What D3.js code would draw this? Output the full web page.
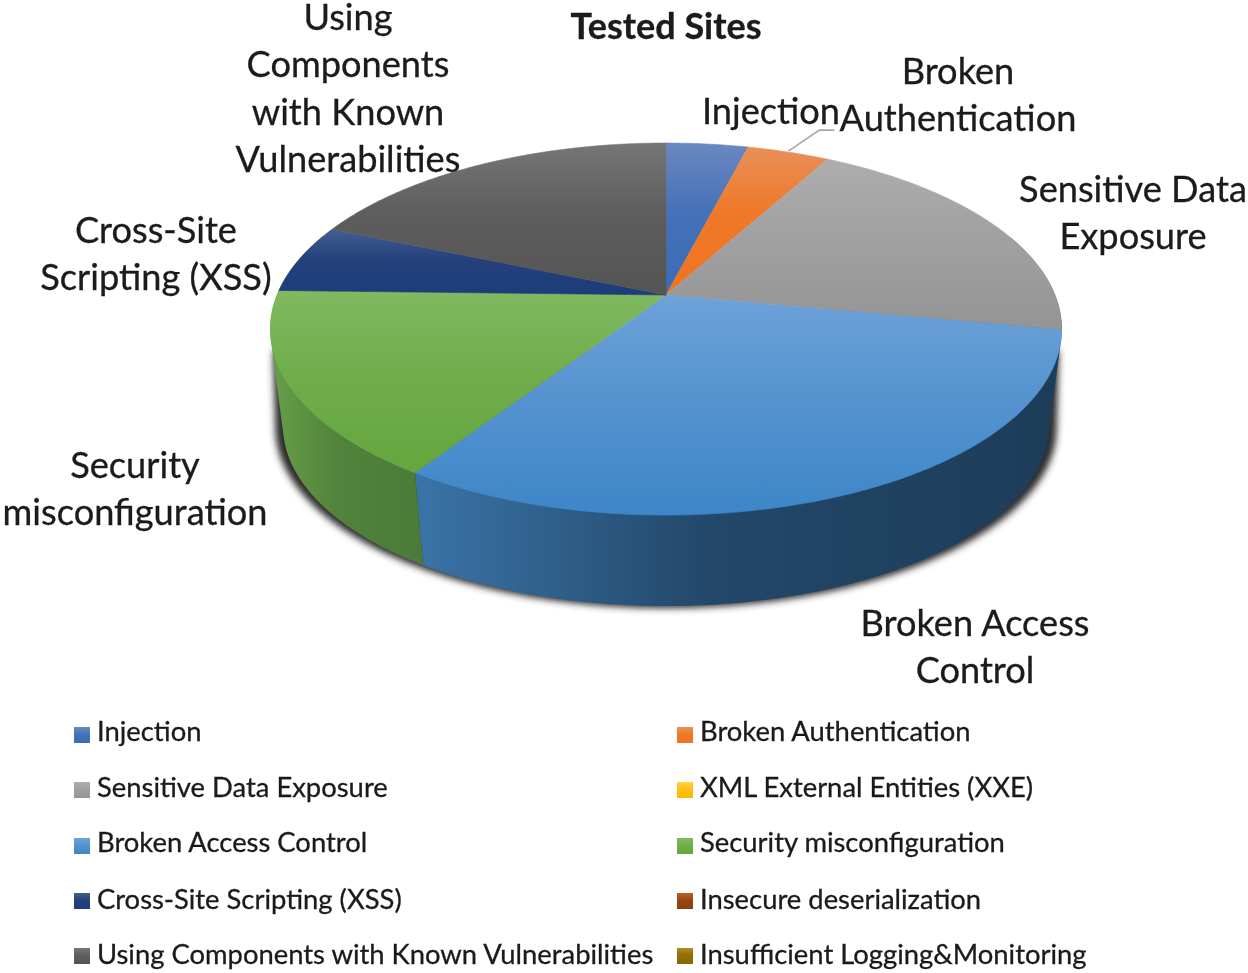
<!DOCTYPE html>
<html lang="en">
<head>
  <meta charset="UTF-8">
  <title>Tested Sites</title>
  <script src="https://d3js.org/d3.v7.min.js"></script>
  <style>
    html, body { margin: 0; padding: 0; background: #fff; overflow: hidden; }
    text { font-family: Lato, "Open Sans", sans-serif; fill: #1a1a1a; stroke: #1a1a1a; stroke-width: 0.3; }
  </style>
</head>
<body>
  <svg id="chart" width="1248" height="973"></svg>
  <script>
    // Values (slice sizes)
    const categories = ["Injection", "Broken Authentication", "Sensitive Data Exposure", "XML External Entities (XXE)",
      "Broken Access Control", "Security misconfiguration", "Cross-Site Scripting (XSS)", "Insecure deserialization",
      "Using Components with Known Vulnerabilities", "Insufficient Logging&Monitoring"];
    const values = [1, 1, 5, 0, 7.8, 4.05, 1.5, 0, 4.65, 0];
    const topLight = ["#6b88c0", "#e98f58", "#adadad", "#ffd34d", "#6ea2d8", "#80b961", "#435f91", "#b5622d", "#767676", "#b08c28"];
    const topDark = ["#3a6cb6", "#f0741f", "#949494", "#ffb800", "#3d86c8", "#65a63e", "#1e3c78", "#8e3f0b", "#545454", "#8a6800"];
    const topMid = [0.78, 0.85, 0.5, 0.78, 0.5, 0.6, 0.85, 0.78, 0.7, 0.78];
    const sideLight = ["#34578f", "#b85f25", "#7d7d7d", "#c29200", "#3a74a8", "#669f49", "#1c3460", "#78360a", "#4b4b4b", "#745700"];
    const sideDark = ["#2a4675", "#96501e", "#666", "#9f7800", "#1d3c58", "#4c7a38", "#16284c", "#622c08", "#3d3d3d", "#5f4700"];

    // Data labels, one array of lines per labelled slice
    const labelLines = {
      "Injection": ["Injection"],
      "Broken Authentication": ["Broken", "Authentication"],
      "Sensitive Data Exposure": ["Sensitive Data", "Exposure"],
      "Broken Access Control": ["Broken Access", "Control"],
      "Security misconfiguration": ["Security", "misconfiguration"],
      "Cross-Site Scripting (XSS)": ["Cross-Site", "Scripting (XSS)"],
      "Using Components with Known Vulnerabilities": ["Using", "Components", "with Known", "Vulnerabilities"]
    };
    // Centre x and first baseline of each label
    const labelAnchor = {
      "Injection": [771, 124],
      "Broken Authentication": [958, 84],
      "Sensitive Data Exposure": [1133, 202],
      "Broken Access Control": [975, 636],
      "Security misconfiguration": [135, 478],
      "Cross-Site Scripting (XSS)": [156, 243],
      "Using Components with Known Vulnerabilities": [348, 30]
    };

    const svg = d3.select("#chart");
    const defs = svg.append("defs");

    // Perspective of the pie: tilted disc seen from the front
    const cx = 666, cy = 295, radiusX = 389, radiusY = 179.8, persp = -0.183;
    const lowerScale = 0.968, lowerY = 393;

    function project(theta, plane) {
      const X = Math.sin(theta), Y = -Math.cos(theta);
      const d = 1 + persp * Y;
      if (plane === "top") return [cx + radiusX * X / d, cy + radiusY * Y / d];
      return [cx + lowerScale * radiusX * X / d, lowerY + lowerScale * radiusY * Y / d];
    }

    function rim(a0, a1, plane) {
      const n = Math.max(2, Math.ceil((a1 - a0) / 0.01));
      return d3.range(n + 1).map(i => project(a0 + (a1 - a0) * i / n, plane));
    }

    const line = d3.line();
    const arcs = d3.pie().sort(null).value(d => d)(values);

    function gradient(id, c0, c1, mid, horizontal) {
      const g = defs.append("linearGradient").attr("id", id)
        .attr("x1", 0).attr("y1", 0)
        .attr("x2", horizontal ? 1 : 0).attr("y2", horizontal ? 0 : 1);
      g.append("stop").attr("offset", "0%").attr("stop-color", c0);
      g.append("stop").attr("offset", "45%").attr("stop-color", d3.interpolateRgb(c0, c1)(mid));
      g.append("stop").attr("offset", "100%").attr("stop-color", c1);
    }

    categories.forEach((c, i) => {
      gradient("top" + i, topLight[i], topDark[i], topMid[i], false);
      gradient("side" + i, sideLight[i], sideDark[i], 0.78, true);
    });

    defs.append("filter").attr("id", "soft")
      .attr("x", "-5%").attr("y", "-10%").attr("width", "110%").attr("height", "120%")
      .append("feGaussianBlur").attr("stdDeviation", 3.5);
    defs.append("filter").attr("id", "textBlur")
      .attr("x", "-5%").attr("y", "-5%").attr("width", "110%").attr("height", "110%")
      .append("feGaussianBlur").attr("stdDeviation", 0.45);

    // Drop shadow under the disc
    const shadowPts = rim(Math.PI * 0.42, Math.PI * 1.58, "lower")
      .map(p => [cx + (p[0] - cx) * 1.02, p[1] + 2])
      .concat(rim(Math.PI * 0.42, Math.PI * 1.58, "top").filter(p => p[1] > 350));
    svg.append("path").attr("d", line(d3.polygonHull(shadowPts)) + "Z").attr("fill", "#2a2a2a").attr("filter", "url(#soft)");

    // Side walls: only the two big front slices show, each stretched past the quarter mark to close the silhouette
    const sideFrom = Math.PI * 0.5 - 0.35, sideTo = Math.PI * 1.5 + 0.35;
    const frontArcs = arcs.filter(d => {
      const mid = (d.startAngle + d.endAngle) / 2;
      return d.value > 0 && mid > Math.PI * 0.5 && mid < Math.PI * 1.5;
    });
    svg.append("g").selectAll("path")
      .data(frontArcs)
      .join("path")
      .attr("d", (d, i) => {
        const a0 = i === 0 ? sideFrom : d.startAngle;
        const a1 = i === frontArcs.length - 1 ? sideTo : d.endAngle;
        return line(d3.polygonHull(rim(a0, a1, "top").concat(rim(a0, a1, "lower")))) + "Z";
      })
      .attr("fill", d => `url(#side${d.index})`);

    // Top faces
    svg.append("g").selectAll("path")
      .data(arcs.filter(d => d.value > 0))
      .join("path")
      .attr("d", d => line([[cx, cy]].concat(rim(d.startAngle, d.endAngle, "top"))) + "Z")
      .attr("fill", d => `url(#top${d.index})`)
      .attr("stroke", d => `url(#top${d.index})`)
      .attr("stroke-width", 0.6);

    // Leader line of the Broken Authentication label
    const authArc = arcs[1];
    const authMid = project((authArc.startAngle + authArc.endAngle) / 2, "top");
    svg.append("path")
      .attr("d", line([[authMid[0], authMid[1] - 1], [authMid[0] + 31, authMid[1] - 22], [authMid[0] + 46, authMid[1] - 22]]))
      .attr("fill", "none").attr("stroke", "#a6a6a6").attr("stroke-width", 1.6);

    const textLayer = svg.append("g").attr("filter", "url(#textBlur)");

    // Title
    textLayer.append("text").attr("x", 666).attr("y", 39).attr("text-anchor", "middle")
      .attr("font-size", 36).attr("font-weight", 700).text("Tested Sites");

    // Data labels
    Object.keys(labelLines).forEach(k => {
      const [x, y] = labelAnchor[k];
      labelLines[k].forEach((t, j) => {
        textLayer.append("text").attr("x", x).attr("y", y + j * 47.3)
          .attr("text-anchor", "middle").attr("font-size", 36.2).text(t);
      });
    });

    // Legend in two columns
    const legendX = d3.scalePoint().domain([0, 1]).range([74, 677]);
    const keyY = d3.scaleOrdinal().domain([0, 1, 2, 3, 4]).range([735, 790, 846, 901, 956]);
    const legendTextY = d3.scaleOrdinal().domain([0, 1, 2, 3, 4]).range([741, 797, 852, 909, 964]);
    categories.forEach((c, i) => {
      const col = i % 2, row = Math.floor(i / 2);
      svg.append("rect")
        .attr("x", legendX(col)).attr("y", keyY(row) - 8)
        .attr("width", 16).attr("height", 16)
        .attr("fill", `url(#top${i})`);
      textLayer.append("text")
        .attr("x", legendX(col) + 23).attr("y", legendTextY(row))
        .attr("font-size", 27.4).text(c);
    });
  </script>
</body>
</html>
